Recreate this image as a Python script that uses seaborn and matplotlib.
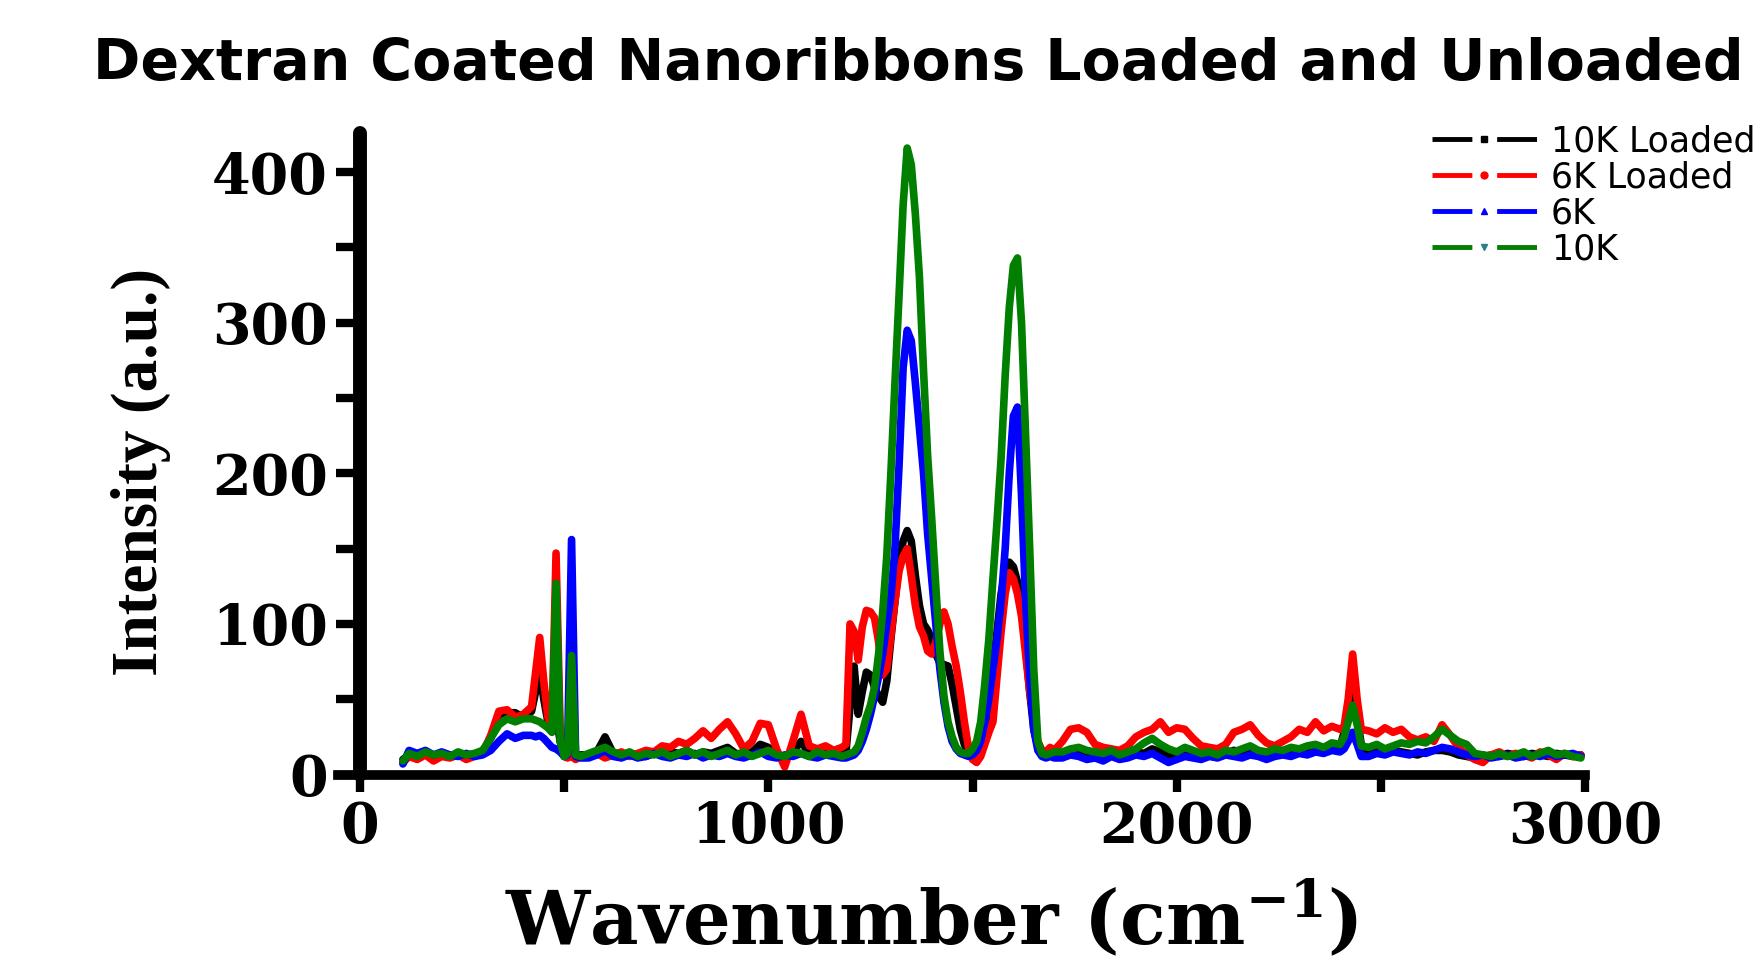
import matplotlib
matplotlib.use("Agg")
import matplotlib.pyplot as plt
import numpy as np
import pandas as pd
import seaborn as sns
from matplotlib.lines import Line2D
from matplotlib.ticker import MultipleLocator

# ---------------- data ----------------
wavenumber = ([105, 120, 140, 160, 180, 200, 220, 240, 260, 280, 300, 320, 340, 360, 380, 400,
               420, 430, 440, 450, 460, 470, 480, 490, 500, 508, 518, 528, 540]
              + list(range(560, 1181, 20))
              + list(range(1190, 1701, 10))
              + list(range(1720, 2401, 20))
              + [2410, 2420, 2431, 2442, 2452]
              + list(range(2470, 2991, 20)))

loaded_10k = ([10, 13, 11, 14, 12, 13, 12, 14, 12, 13, 15, 24, 40, 41, 41, 38, 42, 55, 69, 50, 35, 33, 40, 22, 12, 13, 14, 12, 13]
              + [13, 15, 25, 14, 12, 14, 13, 12, 14, 13, 15, 14, 16, 13, 15, 14, 16, 18, 14, 13, 15, 20, 18, 12, 11, 15, 22, 14, 13, 15, 14, 15]
              + [15, 45, 72, 40, 55, 68, 66, 58, 52, 48, 62, 90, 115, 140, 155, 162, 155, 132, 112, 100, 96, 90, 80, 74, 73,
                 72, 60, 45, 30, 20, 14, 13, 15, 20, 30, 45, 70, 95, 120, 135, 141, 138, 128, 110, 85, 55, 30, 18, 14, 13, 15, 14]
              + [14, 16, 15, 14, 13, 12, 14, 13, 12, 15, 14, 17, 15, 13, 11, 13, 12, 14, 13, 12, 14, 16, 15, 17, 14, 13, 14, 15, 16, 15, 17, 18, 17, 19, 18]
              + [28, 40, 52, 38, 20]
              + [15, 16, 14, 16, 15, 14, 13, 15, 16, 16, 15, 13, 12, 11, 12, 13, 12, 14, 13, 12, 14, 13, 12, 14, 13, 12, 13])

loaded_6k = ([8, 12, 10, 13, 9, 12, 11, 13, 10, 12, 14, 26, 42, 43, 38, 40, 45, 68, 91, 62, 38, 32, 147, 30, 12, 11, 12, 10, 12]
             + [12, 14, 11, 13, 15, 12, 14, 16, 15, 19, 18, 22, 20, 24, 29, 24, 30, 35, 27, 17, 22, 34, 33, 17, 5, 22, 40, 19, 17, 19, 16, 18]
             + [20, 100, 95, 76, 98, 109, 108, 104, 88, 66, 70, 92, 115, 135, 145, 150, 132, 112, 98, 92, 82, 80, 88, 100, 108,
                100, 85, 72, 55, 35, 18, 10, 8, 12, 20, 28, 35, 65, 95, 120, 134, 130, 120, 105, 80, 55, 38, 22, 16, 15, 18, 16]
             + [22, 30, 31, 28, 20, 18, 17, 16, 19, 25, 28, 30, 35, 28, 31, 30, 24, 19, 18, 17, 20, 28, 30, 33, 26, 21, 19, 22, 25, 30, 28, 35, 29, 32, 30]
             + [32, 50, 80, 50, 30]
             + [29, 27, 31, 28, 30, 25, 23, 25, 22, 33, 26, 18, 13, 10, 8, 13, 15, 12, 14, 13, 11, 15, 13, 10, 14, 12, 13])

unloaded_6k = ([7, 16, 14, 16, 13, 15, 13, 12, 14, 12, 13, 16, 22, 27, 24, 26, 26, 25, 26, 24, 21, 18, 17, 15, 12, 13, 156, 12, 11]
               + [11, 13, 16, 12, 11, 13, 11, 12, 14, 12, 11, 13, 12, 14, 11, 13, 12, 14, 12, 11, 13, 15, 12, 11, 13, 12, 14, 12, 11, 13, 12, 11]
               + [11, 12, 13, 16, 22, 30, 40, 52, 65, 80, 100, 118, 150, 205, 270, 295, 288, 260, 230, 200, 160, 130, 100, 70, 48,
                  32, 22, 17, 14, 13, 12, 13, 16, 22, 35, 50, 70, 90, 115, 150, 200, 238, 244, 185, 115, 65, 30, 16, 12, 11, 12, 11]
               + [11, 13, 12, 10, 11, 9, 12, 10, 11, 13, 12, 14, 11, 8, 10, 12, 11, 10, 12, 11, 13, 12, 11, 13, 12, 10, 12, 13, 12, 14, 13, 15, 14, 16, 15]
               + [17, 22, 28, 20, 12]
               + [12, 14, 13, 15, 14, 13, 15, 14, 16, 18, 17, 15, 13, 12, 13, 11, 12, 13, 11, 12, 13, 12, 14, 12, 13, 14, 12])

unloaded_10k = ([9, 14, 12, 15, 13, 14, 12, 15, 13, 14, 16, 24, 33, 37, 35, 37, 37, 36, 35, 33, 31, 28, 127, 22, 12, 14, 79, 13, 12]
                + [14, 16, 18, 15, 13, 15, 12, 14, 13, 15, 12, 14, 16, 13, 15, 12, 14, 16, 13, 15, 12, 14, 16, 13, 12, 15, 14, 12, 15, 13, 14, 12]
                + [13, 14, 15, 19, 28, 38, 46, 58, 80, 108, 145, 200, 260, 318, 378, 416, 405, 372, 330, 268, 212, 170, 125, 82, 52,
                   35, 25, 18, 15, 14, 14, 17, 22, 35, 60, 90, 130, 168, 210, 265, 310, 338, 343, 300, 225, 150, 70, 22, 14, 13, 14, 15]
                + [15, 17, 18, 16, 15, 14, 16, 13, 15, 17, 21, 24, 20, 17, 15, 18, 16, 14, 15, 13, 16, 15, 17, 19, 16, 15, 17, 16, 18, 17, 19, 20, 18, 21, 20]
                + [25, 35, 46, 33, 19]
                + [18, 20, 17, 19, 21, 20, 22, 21, 25, 30, 26, 22, 20, 14, 13, 12, 14, 12, 13, 15, 12, 14, 16, 13, 14, 12, 11])

series_names = ["10K Loaded", "6K Loaded", "6K", "10K"]
series_values = [loaded_10k, loaded_6k, unloaded_6k, unloaded_10k]
line_colors = ["#000000", "#ff0000", "#0000ff", "#007f00"]
legend_markers = ["s", "o", "^", "v"]
marker_colors = ["#000000", "#ff0000", "#0000ff", "#2a7f8a"]

for v in series_values:
    assert len(v) == len(wavenumber), (len(v), len(wavenumber))

df = pd.concat([pd.DataFrame({"Wavenumber": wavenumber, "Intensity": vals, "Sample": name})
                for name, vals in zip(series_names, series_values)], ignore_index=True)

# ---------------- style ----------------
sns.set_style("ticks", rc={"axes.edgecolor": "black", "text.color": "black",
                           "axes.labelcolor": "black", "xtick.color": "black",
                           "ytick.color": "black"})
plt.rcParams["font.family"] = ["DejaVu Sans"]
plt.rcParams["mathtext.fontset"] = "custom"
plt.rcParams["mathtext.rm"] = "DejaVu Serif:bold"
plt.rcParams["mathtext.it"] = "DejaVu Serif:bold"
plt.rcParams["mathtext.bf"] = "DejaVu Serif:bold"
plt.rcParams["mathtext.default"] = "rm"

W, H = 1765, 964
fig = plt.figure(figsize=(W / 100, H / 100), dpi=100)
ax_left, ax_right, ax_bottom, ax_top = 337.6, 1585, 774.5, 133
ax = fig.add_axes([ax_left / W, 1 - ax_bottom / H, (ax_right - ax_left) / W, (ax_bottom - ax_top) / H])

sns.lineplot(data=df, x="Wavenumber", y="Intensity", hue="Sample", hue_order=series_names,
             palette=line_colors, estimator=None, sort=False, lw=5.5, legend=False, ax=ax,
             solid_joinstyle="round", solid_capstyle="round")

ax.set_xlim(-55, 3000)
ax.set_ylim(0, 426)
ax.set_xlabel("")
ax.set_ylabel("")

for s in ["top", "right"]:
    ax.spines[s].set_visible(False)
ax.spines["left"].set_position(("data", 0))
ax.spines["left"].set_linewidth(10)
ax.spines["bottom"].set_linewidth(7)
ax.spines["left"].set_color("black")
ax.spines["bottom"].set_color("black")
ax.spines["left"].set_capstyle("round")
ax.spines["bottom"].set_capstyle("projecting")

ax.xaxis.set_major_locator(MultipleLocator(1000))
ax.xaxis.set_minor_locator(MultipleLocator(500))
ax.yaxis.set_major_locator(MultipleLocator(100))
ax.yaxis.set_minor_locator(MultipleLocator(50))
ax.tick_params(axis="both", which="both", direction="out", width=6, color="black",
               labelcolor="black")
ax.tick_params(axis="x", which="both", length=12, pad=6)
ax.tick_params(axis="y", which="both", length=17, pad=6)
for lab in ax.get_xticklabels() + ax.get_yticklabels():
    lab.set_fontfamily("DejaVu Serif")
    lab.set_fontweight("bold")
    lab.set_fontsize(40)

# ---------------- texts ----------------
fig.text(93 / W, 1 - 80 / H, "Dextran Coated Nanoribbons Loaded and Unloaded",
         fontsize=41, fontweight="bold", family="DejaVu Sans", ha="left", va="baseline",
         color="black")
fig.text(141 / W, 1 - 472 / H, "Intensity (a.u.)", rotation=90, fontsize=47,
         family="Liberation Serif", fontweight="bold", ha="center", va="center",
         color="black")
fig.text(931 / W, 1 - 944 / H, r"Wavenumber (cm$^{-1}$)", fontsize=54,
         family="DejaVu Serif", fontweight="bold", ha="center", va="baseline",
         color="black")

# ---------------- legend ----------------
handles = [Line2D([0], [0], color=c, lw=3.5, linestyle=(0, (8.2, 5.1)), marker=m, markersize=5,
                  markerfacecolor=mc, markeredgecolor=mc)
           for c, m, mc in zip(line_colors, legend_markers, marker_colors)]
fs = 25
fs_px = fs * 100 / 72
fig.legend(handles, series_names, loc="upper left", bbox_to_anchor=(1432 / W, 1 - 124 / H),
           bbox_transform=fig.transFigure, frameon=False, numpoints=1,
           handlelength=105 / fs_px, handletextpad=14 / fs_px, labelspacing=0.06,
           borderpad=0, borderaxespad=0, prop={"family": "DejaVu Sans", "size": fs},
           labelcolor="black")

fig.savefig("out.png", dpi=100)
